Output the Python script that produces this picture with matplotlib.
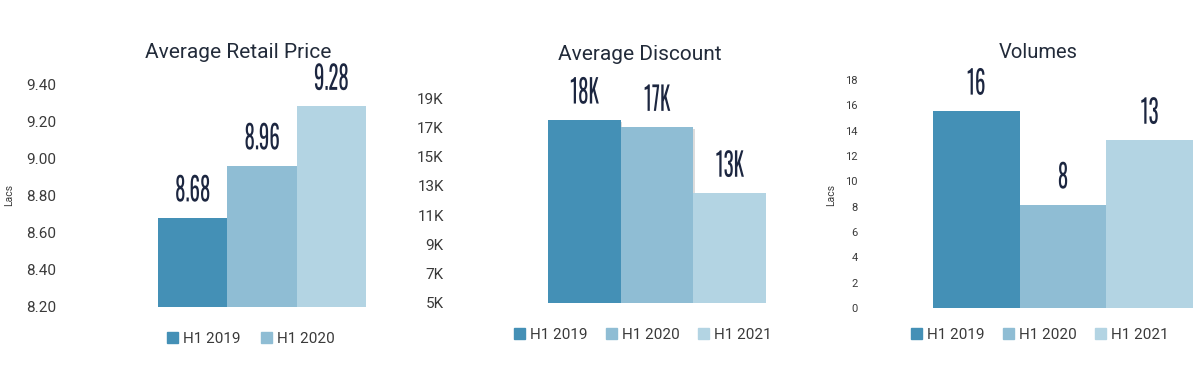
import matplotlib
matplotlib.use("Agg")
import matplotlib.pyplot as plt
from matplotlib.patches import Patch
import matplotlib.patheffects as pe
from matplotlib.transforms import Affine2D
from matplotlib import font_manager

plt.rcParams['font.family'] = ['Roboto', 'DejaVu Sans']

# ---- data ----
price_periods = ["H1 2019", "H1 2020", "H1 2021"]
price_values = [8.68, 8.96, 9.28]
price_labels = ["8.68", "8.96", "9.28"]
price_legend = ["H1 2019", "H1 2020"]
price_ticks = [8.20, 8.40, 8.60, 8.80, 9.00, 9.20, 9.40]

disc_periods = ["H1 2019", "H1 2020", "H1 2021"]
disc_values = [17.5, 17.0, 12.5]
disc_labels = ["18K", "17K", "13K"]
disc_ticks = [5, 7, 9, 11, 13, 15, 17, 19]

vol_periods = ["H1 2019", "H1 2020", "H1 2021"]
vol_values = [15.55, 8.15, 13.25]
vol_labels = ["16", "8", "13"]
vol_ticks = [0, 2, 4, 6, 8, 10, 12, 14, 16, 18]

colors = ["#4490b6", "#8fbdd4", "#b3d4e3"]
navy = "#1c2640"
title_col = "#222b3a"
tick_col = "#3a3a3a"

avail = {f.name for f in font_manager.fontManager.ttflist}
cond = [f for f in ["Oswald", "Bebas Neue", "Roboto Condensed", "Liberation Sans Narrow",
                    "DejaVu Sans Condensed"] if f in avail]
value_family = cond + ["DejaVu Sans"]


class Condense(pe.AbstractPathEffect):
    """Draw text squeezed horizontally about its own centre."""

    def __init__(self, sx):
        super().__init__()
        self.sx = sx

    def draw_path(self, renderer, gc, tpath, affine, rgbFace=None):
        bb = affine.transform_path(tpath).get_extents()
        cx = 0.5 * (bb.x0 + bb.x1)
        t = Affine2D().translate(-cx, 0).scale(self.sx, 1).translate(cx, 0)
        renderer.draw_path(gc, tpath, affine + t, rgbFace)


W, H = 1204, 371
fig = plt.figure(figsize=(W / 100, H / 100), dpi=100)


def px_axes(x0, x1, ytop, ybot):
    return fig.add_axes([x0 / W, 1 - ybot / H, (x1 - x0) / W, (ybot - ytop) / H])


def panel(ax, values, labels, ticks, ylim, ticklabels, pad, tsize, shadow):
    x = list(range(len(values)))
    bars = ax.bar(x, [v - ylim[0] for v in values], bottom=ylim[0], width=1.0,
                  color=colors[:len(values)], linewidth=0)
    if shadow:
        for b in bars:
            b.set_path_effects([pe.SimplePatchShadow(offset=(1.2, -1.2), alpha=0.25,
                                                     shadow_rgbFace="#777777"), pe.Normal()])
    ax.set_xlim(-0.5, len(values) - 0.5)
    ax.set_ylim(*ylim)
    ax.set_yticks(ticks)
    ax.set_yticklabels(ticklabels)
    ax.tick_params(axis='y', length=0, pad=pad, labelsize=tsize, labelcolor=tick_col)
    ax.set_xticks([])
    for s in ax.spines.values():
        s.set_visible(False)
    ax.patch.set_alpha(0)
    txts = ax.bar_label(bars, labels=labels, padding=7.5, fontsize=23.5, color=navy,
                        family=value_family, fontweight='bold')
    for t in txts:
        t.set_path_effects([Condense(0.64)])
    return bars


# Panel 1
ax1 = px_axes(158, 366, 84, 307)
panel(ax1, price_values, price_labels, price_ticks, (8.2, 9.4),
      [f"{t:.2f}" for t in price_ticks], 73, 11, True)
fig.text(238 / W, 1 - 53 / H, "Average Retail Price", ha='center', va='center',
         fontsize=15, color=title_col)
fig.text(9 / W, 1 - 195 / H, "Lacs", rotation=90, ha='center', va='center',
         fontsize=7.5, color=tick_col)
h1 = [Patch(color=colors[i], label=price_legend[i]) for i in range(2)]
fig.legend(handles=h1, loc='center', bbox_to_anchor=(251 / W, 1 - 339 / H), ncol=2,
           frameon=False, fontsize=11, handlelength=0.7, handleheight=0.7,
           handletextpad=0.35, columnspacing=1.3, labelcolor=tick_col)

# Panel 2
ax2 = px_axes(548, 766, 98, 303)
panel(ax2, disc_values, disc_labels, disc_ticks, (5, 19),
      [f"{t}K" for t in disc_ticks], 75, 11, True)
fig.text(640 / W, 1 - 54 / H, "Average Discount", ha='center', va='center',
         fontsize=15, color=title_col)
h2 = [Patch(color=colors[i], label=disc_periods[i]) for i in range(3)]
fig.legend(handles=h2, loc='center', bbox_to_anchor=(643 / W, 1 - 335 / H), ncol=3,
           frameon=False, fontsize=11, handlelength=0.7, handleheight=0.7,
           handletextpad=0.35, columnspacing=1.2, labelcolor=tick_col)

# Panel 3
ax3 = px_axes(933, 1193, 80, 308)
panel(ax3, vol_values, vol_labels, vol_ticks, (0, 18),
      [str(t) for t in vol_ticks], 54, 8, False)
fig.text(1038 / W, 1 - 52 / H, "Volumes", ha='center', va='center',
         fontsize=14.5, color=title_col)
fig.text(831 / W, 1 - 195 / H, "Lacs", rotation=90, ha='center', va='center',
         fontsize=7.5, color=tick_col)
h3 = [Patch(color=colors[i], label=vol_periods[i]) for i in range(3)]
fig.legend(handles=h3, loc='center', bbox_to_anchor=(1040 / W, 1 - 335 / H), ncol=3,
           frameon=False, fontsize=11, handlelength=0.7, handleheight=0.7,
           handletextpad=0.35, columnspacing=1.2, labelcolor=tick_col)

fig.savefig("out.png", dpi=100, facecolor="white")
